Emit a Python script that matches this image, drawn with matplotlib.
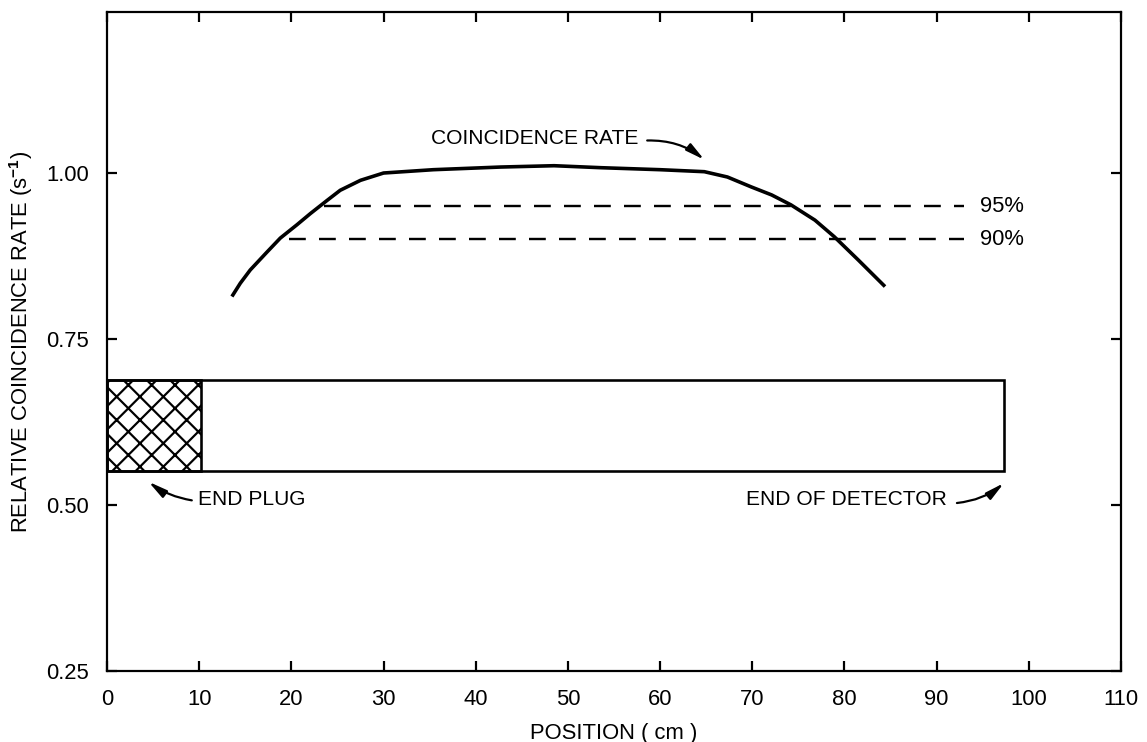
import matplotlib
matplotlib.use("Agg")
import matplotlib.pyplot as plt
from matplotlib import font_manager
from matplotlib.patches import Rectangle

# ---------------- data ----------------
pos_cm = [13.55, 14.46, 15.54, 17.36, 18.8, 20.6, 22.07, 23.9, 25.3, 27.5, 30.0,
          35.4, 42.7, 48.5, 53.6, 60.0, 64.8, 67.3, 69.9, 72.1, 74.2, 76.8,
          78.9, 81.5, 84.4]
rate = [0.814, 0.834, 0.854, 0.881, 0.902, 0.922, 0.939, 0.959, 0.974, 0.989, 1.000,
        1.005, 1.009, 1.011, 1.008, 1.005, 1.002, 0.994, 0.979, 0.967, 0.952, 0.929,
        0.904, 0.869, 0.829]

level_values = [0.95, 0.90]
level_labels = ["95%", "90%"]
level_start = [23.5, 19.7]
level_end = [93.0, 93.0]

detector_x = [0.0, 97.3]      # detector extent (cm)
detector_y = [0.551, 0.688]   # drawn band in rate units
plug_x = [0.0, 10.2]          # end plug extent (cm)

x_ticks = [0, 10, 20, 30, 40, 50, 60, 70, 80, 90, 100, 110]
y_ticks = [0.25, 0.50, 0.75, 1.00]
y_ticklabels = ["0.25", "0.50", "0.75", "1.00"]

# ---------------- style ----------------
DPI = 140
def pt(px):
    return px * 72.0 / DPI

names = {f.name for f in font_manager.fontManager.ttflist}
narrow = "Liberation Sans Narrow" in names
num_font = "Liberation Sans Narrow" if narrow else "Liberation Sans"
num_px = 24 if narrow else 22
txt_font = "Liberation Sans"

plt.rcParams["font.family"] = [txt_font, "DejaVu Sans"]
plt.rcParams["mathtext.fontset"] = "custom"
plt.rcParams["mathtext.rm"] = txt_font
plt.rcParams["mathtext.bf"] = txt_font + ":bold"
plt.rcParams["hatch.linewidth"] = pt(2.2)

fig = plt.figure(figsize=(1147 / DPI, 742 / DPI), dpi=DPI)
ax = fig.add_axes([107 / 1147, 1 - 671 / 742, (1121 - 107) / 1147, (671 - 12) / 742])

# curve
ax.plot(pos_cm, rate, color="black", lw=pt(3.6), solid_joinstyle="round",
        solid_capstyle="butt")

# percent levels
for v, lab, xs, xe in zip(level_values, level_labels, level_start, level_end):
    ax.plot([xs, xe], [v, v], color="black", lw=pt(2.4),
            linestyle=(0, (7.0, 5.5)))
    ax.text(xe + 1.7, v, lab, fontsize=pt(22), family=[num_font, "DejaVu Sans"],
            ha="left", va="center")

# detector body
ax.add_patch(Rectangle((detector_x[0], detector_y[0]), detector_x[1] - detector_x[0],
                       detector_y[1] - detector_y[0], fill=False, ec="black",
                       lw=pt(2.6), zorder=3))
# end plug
ax.add_patch(Rectangle((plug_x[0], detector_y[0]), plug_x[1] - plug_x[0],
                       detector_y[1] - detector_y[0], fill=False, ec="black",
                       hatch="xx", lw=pt(2.6), zorder=3))

# annotations
arrow_kw = dict(arrowstyle="-|>,head_length=0.8,head_width=0.18", color="black",
                lw=pt(2.2), shrinkA=0, shrinkB=0, mutation_scale=10)
fs_txt = pt(21)
ax.text(57.6, 1.052, "COINCIDENCE RATE", fontsize=fs_txt, ha="right", va="center")
ax.annotate("", xy=(64.8, 1.020), xytext=(58.6, 1.049),
            arrowprops=dict(connectionstyle="arc3,rad=-0.18", **arrow_kw))

ax.text(9.9, 0.508, "END PLUG", fontsize=fs_txt, ha="left", va="center")
ax.annotate("", xy=(4.5, 0.535), xytext=(9.2, 0.507),
            arrowprops=dict(connectionstyle="arc3,rad=-0.12", **arrow_kw))

ax.text(91.1, 0.508, "END OF DETECTOR", fontsize=fs_txt, ha="right", va="center")
ax.annotate("", xy=(97.3, 0.533), xytext=(92.2, 0.503),
            arrowprops=dict(connectionstyle="arc3,rad=0.15", **arrow_kw))

# axes
ax.set_xlim(0, 110)
ax.set_ylim(0.25, 1.2425)
ax.set_xticks(x_ticks)
ax.set_xticklabels([str(t) for t in x_ticks])
ax.set_yticks(y_ticks)
ax.set_yticklabels(y_ticklabels)
for lbl in ax.get_xticklabels() + ax.get_yticklabels():
    lbl.set_family([num_font, "DejaVu Sans"])
ax.tick_params(direction="in", length=pt(10), width=pt(2.2), labelsize=pt(num_px),
               pad=pt(18), top=True, right=True, colors="black")
for s in ax.spines.values():
    s.set_linewidth(pt(2.2))

ax.set_xlabel("POSITION ( cm )", fontsize=pt(22))
ax.set_ylabel(r"RELATIVE COINCIDENCE RATE (s$^{\mathbf{-1}}$)", fontsize=pt(22))
ax.xaxis.set_label_coords(0.5, -0.079)
ax.yaxis.set_label_coords(-0.071, 0.5)

fig.savefig("out.png", dpi=DPI, facecolor="white")
